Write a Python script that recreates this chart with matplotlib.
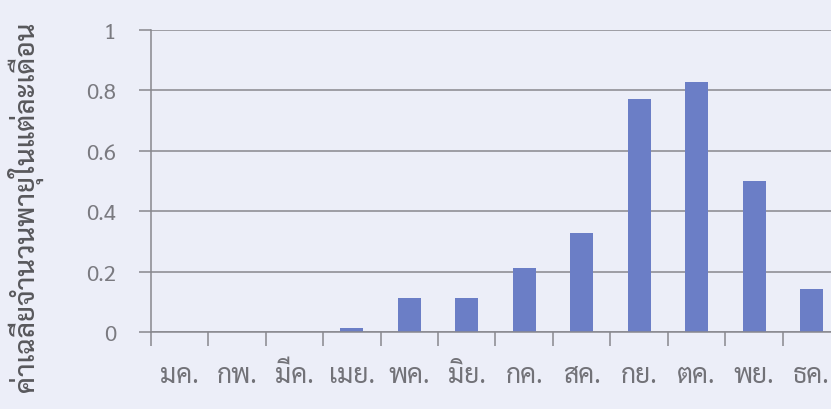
import matplotlib
matplotlib.use("Agg")
import matplotlib.pyplot as plt
import numpy as np

# Monthly average number of storms
months = ["มค.", "กพ.", "มีค.", "เมย.", "พค.", "มิย.",
          "กค.", "สค.", "กย.", "ตค.", "พย.", "ธค."]
avg_storms = [0, 0, 0, 0.014, 0.114, 0.114,
              0.214, 0.329, 0.771, 0.829, 0.5, 0.143]
y_ticks = [0, 0.2, 0.4, 0.6, 0.8, 1]
y_tick_labels = ["0", "0.2", "0.4", "0.6", "0.8", "1"]
y_title = "ค่าเฉลี่ยจำนวนพายุในแต่ละเดือน"

THAI = ["Sarabun", "DejaVu Sans"]
BG = "#eceef8"
GRID = "#88888e"
BAR = "#6b7ec6"

fig = plt.figure(figsize=(8.31, 4.10), dpi=100, facecolor=BG)
ax = fig.add_axes([0.1814, 0.1866, 0.8297, 0.7378], facecolor=BG)

x = np.arange(len(months))
ax.bar(x, avg_storms, width=0.4, color=BAR, zorder=3)

ax.set_xlim(-0.5, len(months) - 0.5)
ax.set_ylim(0, 1)

ax.set_yticks(y_ticks)
ax.set_yticklabels(y_tick_labels, family=THAI, fontsize=16, color="#7a7a80")
ax.yaxis.grid(True, color=GRID, linewidth=1.1, zorder=1)
ax.tick_params(axis="y", length=9, width=1.1, color=GRID, pad=16, direction="out")

# tick marks sit on the category boundaries, labels in the middle
ax.set_xticks(np.arange(len(months) + 1) - 0.5)
ax.set_xticklabels([])
ax.set_xticks(x, minor=True)
ax.set_xticklabels(months, minor=True, family=THAI, fontsize=19, color="#727278")
ax.tick_params(axis="x", which="major", length=10, width=1.1, color=GRID, direction="out")
ax.tick_params(axis="x", which="minor", length=0, pad=21)

for side in ("top", "right"):
    ax.spines[side].set_visible(False)
for side in ("left", "bottom"):
    ax.spines[side].set_color(GRID)
    ax.spines[side].set_linewidth(1.1)
    ax.spines[side].set_zorder(4)

fig.text(25 / 831, 1 - 207 / 410, y_title, rotation=90, ha="center", va="center",
         family=THAI, fontsize=20, color="#58585c", fontweight="medium")

fig.savefig("out.png", dpi=100, facecolor=BG)
